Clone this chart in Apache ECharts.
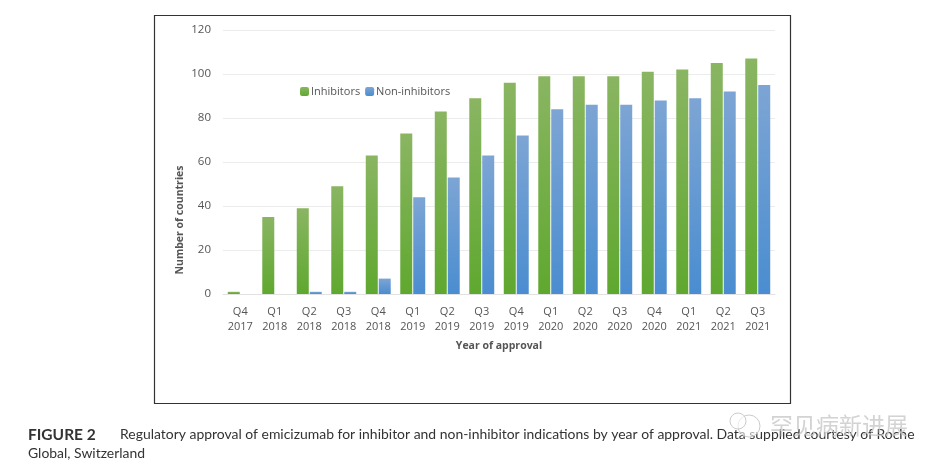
<!DOCTYPE html>
<html>
<head>
<meta charset="utf-8">
<style>
html,body{margin:0;padding:0;background:#fff;}
#chart{width:933px;height:469px;}
</style>
<script src="https://cdn.jsdelivr.net/npm/echarts@6/dist/echarts.min.js"></script>
</head>
<body>
<div id="chart"></div>
<script>
// 数据
var categories = ['Q4\n2017','Q1\n2018','Q2\n2018','Q3\n2018','Q4\n2018','Q1\n2019','Q2\n2019','Q3\n2019','Q4\n2019','Q1\n2020','Q2\n2020','Q3\n2020','Q4\n2020','Q1\n2021','Q2\n2021','Q3\n2021'];
var inhibitors = [1,35,39,49,63,73,83,89,96,99,99,99,101,102,105,107];
var nonInhibitors = [0,0,1,1,7,44,53,63,72,84,86,86,88,89,92,95];
var captionLabel = 'FIGURE 2';
var captionLine1 = 'Regulatory approval of emicizumab for inhibitor and non-inhibitor indications by year of approval. Data supplied courtesy of Roche';
var captionLine2 = 'Global, Switzerland';
var watermark = '罕见病新进展';

var myChart = echarts.init(document.getElementById('chart'));

function barColor(top, bottom){
	return new echarts.graphic.LinearGradient(0, 0, 0, 1, [
		{offset: 0, color: top},
		{offset: 1, color: bottom}
	]);
}

var option = {
	animation: false,
	backgroundColor: '#fff',
	textStyle: {fontFamily: '"Open Sans", sans-serif'},
	grid: {left: 223, right: 158, top: 30, bottom: 175},
	legend: {
		left: 295, top: 81,
		itemWidth: 9, itemHeight: 9, itemGap: 5,
		textStyle: {color: '#555', fontSize: 11, padding: [0, 0, 0, -3]},
		data: ['Inhibitors', 'Non-inhibitors']
	},
	xAxis: {
		type: 'category',
		data: categories,
		name: 'Year of approval',
		nameLocation: 'middle',
		nameGap: 47,
		nameTextStyle: {color: '#555', fontSize: 10.5, fontWeight: 'bold'},
		axisTick: {show: false},
		axisLine: {lineStyle: {color: '#e2e2e2'}},
		axisLabel: {color: '#555', fontSize: 11, lineHeight: 15.5, margin: 10, interval: 0}
	},
	yAxis: {
		type: 'value',
		min: 0, max: 120, interval: 20,
		name: 'Number of countries',
		nameLocation: 'middle',
		nameGap: 37,
		nameMoveOverlap: false,
		nameTextStyle: {color: '#555', fontSize: 10.5, fontWeight: 'bold', padding: [0, 116, 0, 0]},
		axisLabel: {color: '#555', fontSize: 11.5, margin: 12},
		splitLine: {lineStyle: {color: '#ececec'}}
	},
	series: [
		{
			name: 'Inhibitors', type: 'bar',
			data: inhibitors,
			barWidth: 12, barGap: '8%',
			itemStyle: {color: barColor('#8ab562', '#5fa82f')}
		},
		{
			name: 'Non-inhibitors', type: 'bar',
			data: nonInhibitors,
			barWidth: 12,
			itemStyle: {color: barColor('#7da5d4', '#4a8dd0')}
		}
	],
	graphic: [
		// 外框
		{type: 'rect', silent: true, z: 10, shape: {x: 154.5, y: 15.5, width: 636, height: 388},
			style: {fill: null, stroke: '#333', lineWidth: 1.2}},
		// 图注
		{type: 'text', z: 10, left: 28, top: 427, style: {text: captionLabel, fill: '#333', font: 'bold 15.5px Lato, sans-serif'}},
		{type: 'text', z: 10, left: 120, top: 428, style: {text: captionLine1, fill: '#333', font: '13.95px Lato, sans-serif'}},
		{type: 'text', z: 10, left: 28, top: 447, style: {text: captionLine2, fill: '#333', font: '13.95px Lato, sans-serif'}},
		// 水印
		{type: 'text', z: 11, left: 770, top: 414, style: {text: watermark, fill: 'rgba(200,200,200,0.8)', font: '23px "Noto Sans CJK SC", sans-serif'}},
		{type: 'circle', z: 11, silent: true, shape: {cx: 749, cy: 426, r: 11}, style: {fill: 'rgba(255,255,255,0.6)', stroke: '#ccc', lineWidth: 1}},
		{type: 'circle', z: 11, silent: true, shape: {cx: 738, cy: 421, r: 8}, style: {fill: 'rgba(255,255,255,0.6)', stroke: '#ccc', lineWidth: 1}}
	]
};
myChart.setOption(option);
</script>
</body>
</html>
